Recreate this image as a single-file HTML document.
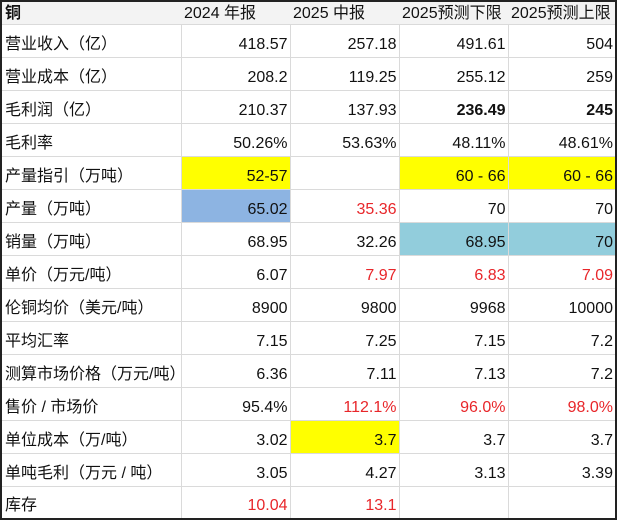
<!DOCTYPE html>
<html><head><meta charset="utf-8"><style>
html,body{margin:0;padding:0;background:#fff;}
body{width:618px;height:520px;overflow:hidden;position:relative;font-family:"Liberation Sans","Noto Sans CJK SC",sans-serif;font-size:16px;color:#111;}
table{position:absolute;left:0;top:0;border-collapse:collapse;table-layout:fixed;width:617px;border:2px solid #222;}
tr{height:33px;}
tr.h{height:23px;}
td{border:1px solid #dadada;padding:0 2px 2px 3px;text-align:right;vertical-align:bottom;white-space:nowrap;overflow:hidden;line-height:20px;}
td:first-child{text-align:left;}
tr.h td{background:#f3f3f3;text-align:left;border-left:none;border-right:none;padding:0 2px 0 3px;}
.r{color:#e8262a}.b{font-weight:bold}.y{background:#ffff00}.bl{background:#8db4e2}.t{background:#92cddc}
</style></head><body>
<table>
<colgroup><col style="width:180px"><col style="width:109px"><col style="width:109px"><col style="width:109px"><col style="width:108px"></colgroup>
<tr class="h"><td class="b">铜</td><td>2024 年报</td><td>2025 中报</td><td>2025预测下限</td><td>2025预测上限</td></tr>
<tr><td>营业收入（亿）</td><td>418.57</td><td>257.18</td><td>491.61</td><td>504</td></tr>
<tr><td>营业成本（亿）</td><td>208.2</td><td>119.25</td><td>255.12</td><td>259</td></tr>
<tr><td>毛利润（亿）</td><td>210.37</td><td>137.93</td><td class="b">236.49</td><td class="b">245</td></tr>
<tr><td>毛利率</td><td>50.26%</td><td>53.63%</td><td>48.11%</td><td>48.61%</td></tr>
<tr><td>产量指引（万吨）</td><td class="y">52-57</td><td></td><td class="y">60 - 66</td><td class="y">60 - 66</td></tr>
<tr><td>产量（万吨）</td><td class="bl">65.02</td><td class="r">35.36</td><td>70</td><td>70</td></tr>
<tr><td>销量（万吨）</td><td>68.95</td><td>32.26</td><td class="t">68.95</td><td class="t">70</td></tr>
<tr><td>单价（万元/吨）</td><td>6.07</td><td class="r">7.97</td><td class="r">6.83</td><td class="r">7.09</td></tr>
<tr><td>伦铜均价（美元/吨）</td><td>8900</td><td>9800</td><td>9968</td><td>10000</td></tr>
<tr><td>平均汇率</td><td>7.15</td><td>7.25</td><td>7.15</td><td>7.2</td></tr>
<tr><td>测算市场价格（万元/吨）</td><td>6.36</td><td>7.11</td><td>7.13</td><td>7.2</td></tr>
<tr><td>售价 / 市场价</td><td>95.4%</td><td class="r">112.1%</td><td class="r">96.0%</td><td class="r">98.0%</td></tr>
<tr><td>单位成本（万/吨）</td><td>3.02</td><td class="y">3.7</td><td>3.7</td><td>3.7</td></tr>
<tr><td>单吨毛利（万元 / 吨）</td><td>3.05</td><td>4.27</td><td>3.13</td><td>3.39</td></tr>
<tr><td>库存</td><td class="r">10.04</td><td class="r">13.1</td><td></td><td></td></tr>
</table>
</body></html>
